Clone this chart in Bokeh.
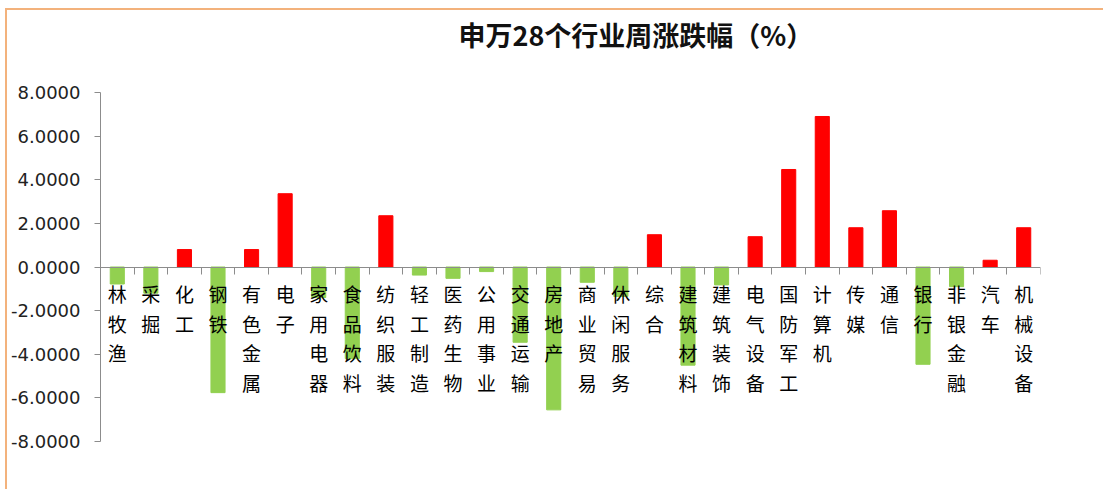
from bokeh.plotting import figure
from bokeh.models import Range1d, FixedTicker, PrintfTickFormatter, ColumnDataSource, Title
from bokeh.core.properties import value
from bokeh.embed import file_html
from bokeh.resources import INLINE

# ---- data ----
industries = ["林牧渔", "采掘", "化工", "钢铁", "有色金属", "电子", "家用电器", "食品饮料",
              "纺织服装", "轻工制造", "医药生物", "公用事业", "交通运输", "房地产", "商业贸易",
              "休闲服务", "综合", "建筑材料", "建筑装饰", "电气设备", "国防军工", "计算机",
              "传媒", "通信", "银行", "非银金融", "汽车", "机械设备"]
weekly_change = [-0.78, -1.20, 0.80, -5.76, 0.80, 3.36, -1.40, -4.20,
                 2.35, -0.37, -0.52, -0.21, -3.45, -6.55, -0.70,
                 -1.35, 1.48, -4.50, -0.82, 1.39, 4.47, 6.90,
                 1.80, 2.58, -4.46, -0.90, 0.31, 1.80]
y_ticks = [-8, -6, -4, -2, 0, 2, 4, 6, 8]
title_text = "申万28个行业周涨跌幅（%）"

UP = "#FF0000"
DOWN = "#92D050"

n = len(industries)
xs = [i + 0.5 for i in range(n)]
src = ColumnDataSource(dict(
    x=xs,
    top=weekly_change,
    color=[UP if v >= 0 else DOWN for v in weekly_change],
    label=["\n".join(list(c)) for c in industries],
    zero=[0] * n,
))

p = figure(width=1098, height=481, output_backend="svg", toolbar_location=None,
           x_range=Range1d(0, n), y_range=Range1d(y_ticks[0], y_ticks[-1]),
           min_border_left=93, min_border_right=65, min_border_top=82, min_border_bottom=50,
           background_fill_color="white", border_fill_color="white")
p.styles = {"border-top": "2px solid #F3B27C", "border-left": "2px solid #F3B27C",
            "margin-top": "8px", "margin-left": "5px"}
p.outline_line_color = None
p.xgrid.visible = False
p.ygrid.visible = False

p.vbar(x="x", top="top", bottom=0, width=0.42, color="color", source=src)

p.text(x="x", y="zero", text="label", source=src, y_offset=13,
       text_align="center", text_baseline="top", text_font=value("Noto Sans CJK SC"),
       text_font_size="19px", text_line_height=1.1, text_color="black")

# axes
xa = p.xaxis[0]
xa.fixed_location = 0
xa.ticker = FixedTicker(ticks=list(range(n + 1)))
xa.major_label_overrides = {i: "" for i in range(n + 1)}
xa.axis_line_color = "#8C8C8C"
xa.major_tick_line_color = "#8C8C8C"
xa.major_tick_in = 0
xa.major_tick_out = 7
xa.minor_tick_line_color = None

ya = p.yaxis[0]
ya.ticker = FixedTicker(ticks=y_ticks)
ya.formatter = PrintfTickFormatter(format="%.4f")
ya.axis_line_color = "#8C8C8C"
ya.major_tick_line_color = "#8C8C8C"
ya.major_tick_in = 0
ya.major_tick_out = 6
ya.minor_tick_line_color = None
ya.major_label_standoff = 14
ya.major_label_text_font = "DejaVu Sans"
ya.major_label_text_font_size = "18px"
ya.major_label_text_color = "#222222"

# spacer between plot frame and title (closest to frame), then the title
spacer = Title(text=" ", text_font_size="10px", standoff=26)
p.add_layout(spacer, "above")
t = Title(text=title_text, align="left", offset=358, vertical_align="bottom",
          text_font="Noto Sans CJK SC", text_font_size="27px", text_font_style="bold",
          text_color="#111111", standoff=0)
p.add_layout(t, "above")

open("out.html", "w").write(file_html(p, INLINE))
